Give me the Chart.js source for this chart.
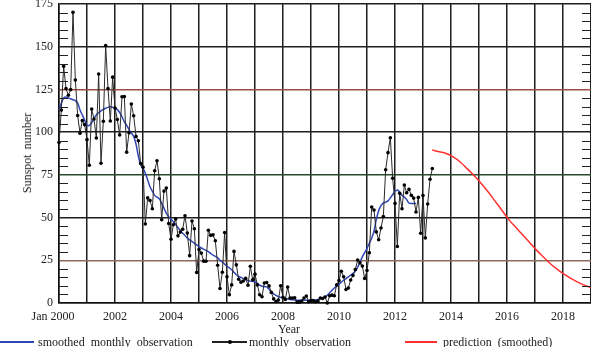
<!DOCTYPE html>
<html>
<head>
<meta charset="utf-8">
<script src="https://cdn.jsdelivr.net/npm/chart.js@4.4.1/dist/chart.umd.min.js"></script>
<style>
  html, body { margin: 0; padding: 0; background: #fff; }
  #wrap { position: relative; width: 591px; height: 347px; font-family: "Liberation Serif", serif; color: #222; }
  #wrap canvas { position: absolute; left: 0; top: 0; }
  .txt { position: absolute; font-size: 12px; white-space: nowrap; word-spacing: 3px; line-height: 12px; }
  .swatch { position: absolute; height: 1.5px; }
  .dot { position: absolute; width: 4px; height: 4px; border-radius: 2px; background: #000; }
</style>
</head>
<body>
<div id="wrap">
  <canvas id="sunspots" width="591" height="347"></canvas>
  <div class="txt" style="left:27px; top:153px; transform: translate(-50%, -50%) rotate(-90deg); word-spacing:2px;">Sunspot number</div>
  <div class="txt" style="left:289px; top:329px; transform: translate(-50%, -50%);">Year</div>

  <div class="swatch" style="left:0; top:341px; width:34px; background:#2f45b4;"></div>
  <div class="txt" style="left:38px; top:336px;">smoothed monthly observation</div>
  <div class="swatch" style="left:212px; top:341px; width:35px; background:#222;"></div>
  <div class="dot" style="left:228px; top:340px;"></div>
  <div class="txt" style="left:249px; top:336px;">monthly observation</div>
  <div class="swatch" style="left:405px; top:341px; width:32px; background:#ff3030;"></div>
  <div class="txt" style="left:443px; top:336px;">prediction (smoothed)</div>
</div>
<script>
document.addEventListener('DOMContentLoaded', function() {

// monthly sunspot number, Jan 2000 .. May 2013
const monthly = [
    94.0, 112.9, 138.5, 125.5, 121.6, 124.9, 170.1, 130.5, 109.7, 99.4, 106.8, 104.4,
    95.6, 80.6, 113.5, 107.7, 96.6, 134.0, 81.8, 106.4, 150.7, 125.5, 106.5, 132.2,
    114.1, 107.4, 98.4, 120.7, 120.8, 88.3, 99.6, 116.4, 109.6, 97.5, 95.0, 81.6,
    79.5, 46.2, 61.5, 60.0, 55.2, 77.4, 83.3, 72.7, 48.7, 65.5, 67.3, 46.5,
    37.3, 45.8, 49.1, 39.3, 41.5, 43.2, 51.1, 40.9, 27.7, 48.0, 43.5, 17.9,
    31.3, 29.2, 24.5, 24.4, 42.6, 39.6, 39.9, 36.4, 22.1, 8.5, 18.0, 41.2,
    15.3, 4.9, 10.6, 30.2, 22.3, 13.9, 12.2, 12.9, 14.4, 10.4, 21.5, 13.6,
    16.9, 10.6, 4.8, 3.7, 11.7, 12.0, 10.0, 6.2, 2.4, 0.9, 1.7, 10.1,
    3.3, 2.1, 9.3, 2.9, 2.9, 3.1, 0.5, 0.5, 1.1, 2.9, 4.1, 0.8,
    1.5, 1.4, 0.7, 1.2, 2.9, 2.6, 3.5, 0.0, 4.2, 4.6, 4.2, 10.6,
    13.1, 18.6, 15.4, 7.9, 8.8, 13.5, 16.1, 19.6, 25.2, 23.5, 21.6, 14.4,
    19.0, 29.4, 56.2, 54.4, 41.6, 37.0, 43.9, 50.6, 78.0, 88.0, 96.7, 73.0,
    58.3, 33.1, 64.2, 55.2, 69.0, 64.5, 66.5, 63.0, 61.4, 53.3, 61.8, 40.8,
    62.9, 38.1, 57.9, 72.4, 78.7
];

// 13-month smoothed values, Jan 2000 .. Oct 2012
const smoothed = [
    113, 117, 120, 120.5, 120, 119.5, 119, 118.5, 117, 113, 110, 107,
    104, 104, 105.5, 108, 110, 111.5, 112.5, 113.3, 114, 114.5, 114.8, 114.5,
    114, 113.2, 111.5, 109, 106, 104, 101.5, 99.5, 97.5, 93, 86, 81,
    79, 76, 72, 68, 65.5, 63, 62, 61, 58.5, 55.5, 52.5, 50.5,
    49, 47.5, 46, 44, 42.5, 40.8, 39.5, 38, 37, 36, 35, 34,
    33, 32.2, 31.5, 30.8, 30, 29, 28, 27.3, 26.5, 25, 24, 22.7,
    21.5, 20.5, 19.5, 18, 16.5, 15.5, 15, 14.3, 13.7, 13.2, 12.8, 12.6,
    12.4, 11.5, 10.4, 9.8, 9.6, 9.4, 8, 6.5, 5.3, 4.5, 3.8, 3.3,
    3, 2.7, 2.4, 2.1, 1.9, 1.7, 1.6, 1.6, 1.6, 1.6, 1.6, 1.6,
    1.6, 1.6, 1.7, 2, 2.4, 2.9, 3.4, 4.5, 6, 7.5, 8.8, 9.8,
    11, 12.2, 13.3, 14.3, 15.3, 16.3, 17.3, 18.5, 21, 24, 27, 29.5,
    32, 35, 38, 42, 49, 54, 57, 58.5, 59, 59.8, 61.5, 63.5,
    65.3, 66.2, 65, 63, 62, 60.5, 58.5, 58.2, 58.2, 58.3
];

// smoothed forecast to end of 2018
const predYears = [13.33, 13.58, 13.83, 14.08, 14.33, 14.58, 14.83, 15.08, 15.33, 15.58, 15.83, 16.08,
                   16.33, 16.58, 16.83, 17.08, 17.33, 17.58, 17.83, 18.08, 18.33, 18.58, 18.83, 19.0];
const predValues = [89.5, 88.5, 87.5, 85.5, 82.5, 78.5, 74.5, 70, 65, 59.5, 54, 48.5,
                    44, 39.5, 35, 30.5, 26.5, 22.5, 19.3, 16.5, 14, 11.8, 10, 9];

const startYear = 2000;
const endYear = 2019;
const yTicks = [0, 25, 50, 75, 100, 125, 150, 175];

// horizontal grid colours
const hGridColor = {25: '#8c6a5c', 75: '#294a2c', 125: '#9a4f45'};

const byMonth = arr => arr.map((v, i) => ({x: startYear + i / 12, y: v}));

// little inward ticks every 5 on both side edges
const minorTicks = {
    id: 'minorTicks',
    afterDatasetsDraw(chart) {
        const ctx = chart.ctx;
        const y = chart.scales.y;
        const area = chart.chartArea;
        ctx.save();
        ctx.strokeStyle = '#222';
        ctx.lineWidth = 1.2;
        for (let v = 5; v < 175; v += 5) {
            if (v % 25 === 0) continue;
            const py = Math.round(y.getPixelForValue(v)) + 0.5;
            ctx.beginPath();
            ctx.moveTo(area.left, py);
            ctx.lineTo(area.left + 9, py);
            ctx.moveTo(area.right - 9, py);
            ctx.lineTo(area.right, py);
            ctx.stroke();
        }
        ctx.restore();
    }
};

new Chart(document.getElementById('sunspots'), {
    type: 'line',
    data: {
        datasets: [
            {
                label: 'monthly observation',
                data: byMonth(monthly),
                borderColor: '#2a2a2a',
                borderWidth: 1,
                pointRadius: 1.8,
                pointBackgroundColor: '#000',
                pointBorderWidth: 0,
                tension: 0
            },
            {
                label: 'smoothed monthly observation',
                data: byMonth(smoothed),
                borderColor: '#2f45b4',
                borderWidth: 1.5,
                pointRadius: 0,
                tension: 0.3
            },
            {
                label: 'prediction (smoothed)',
                data: predYears.map((t, i) => ({x: startYear + t, y: predValues[i]})),
                borderColor: '#ff3030',
                borderWidth: 1.5,
                pointRadius: 0,
                tension: 0.4
            }
        ]
    },
    options: {
        responsive: false,
        animation: false,
        devicePixelRatio: 1,
        clip: false,
        layout: { padding: {top: 4, right: 0, left: 0, bottom: 0}, autoPadding: false },
        plugins: { legend: { display: false }, tooltip: { enabled: false } },
        scales: {
            x: {
                type: 'linear',
                min: startYear,
                max: endYear,
                afterFit: s => {
                    s.height = 44;
                    s.paddingLeft = 0;
                    s.paddingRight = 0;
                },
                afterBuildTicks: s => {
                    s.ticks = [];
                    for (let yr = startYear; yr <= endYear; yr++) s.ticks.push({value: yr});
                },
                ticks: {
                    autoSkip: false,
                    maxRotation: 0,
                    padding: 7,
                    color: '#222',
                    font: {family: 'Liberation Serif', size: 12},
                    // first label sits a little left of its grid line
                    callback: v => v === startYear ? 'Jan 2000    ' : (v % 2 === 0 && v < endYear ? String(v) : '')
                },
                grid: { color: '#1e1e1e', lineWidth: 1.5, drawTicks: false },
                border: { color: '#111', width: 1.5 }
            },
            y: {
                min: 0,
                max: 175,
                afterFit: s => {
                    s.width = 59;
                    s.paddingTop = 0;
                    s.paddingBottom = 0;
                },
                afterBuildTicks: s => { s.ticks = yTicks.map(v => ({value: v})); },
                ticks: {
                    padding: 6,
                    color: '#222',
                    font: {family: 'Liberation Serif', size: 12}
                },
                grid: {
                    color: c => hGridColor[c.tick.value] || '#1e1e1e',
                    lineWidth: 1.5,
                    drawTicks: false
                },
                border: { color: '#111', width: 1.5 }
            }
        }
    },
    plugins: [minorTicks]
});

});
</script>
</body>
</html>
